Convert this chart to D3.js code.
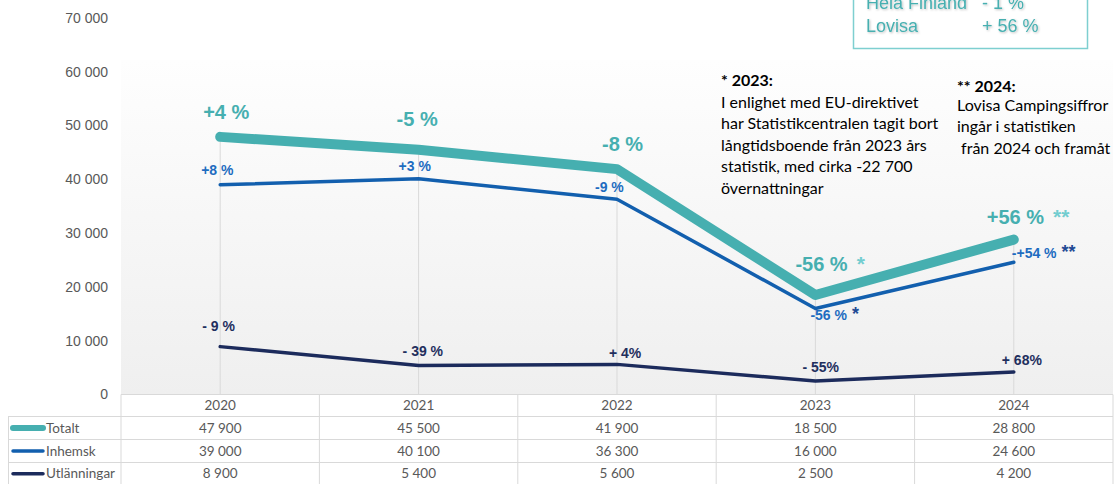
<!DOCTYPE html>
<html>
<head>
<meta charset="utf-8">
<script src="https://cdn.jsdelivr.net/npm/d3@7"></script>
<style>
  body { margin: 0; background: #fff; }
  svg { display: block; }
</style>
</head>
<body>
<div id="chart"></div>
<script>
// data
var years = ["2020", "2021", "2022", "2023", "2024"];
var totalt = [47900, 45500, 41900, 18500, 28800];
var inhemsk = [39000, 40100, 36300, 16000, 24600];
var utl = [8900, 5400, 5600, 2500, 4200];
var seriesNames = ["Totalt", "Inhemsk", "Utlänningar"];
var yTicks = [0, 10000, 20000, 30000, 40000, 50000, 60000, 70000];

var totLabels = ["+4 %", "-5 %", "-8 %", "-56 %", "+56 %"];
var inhLabels = ["+8 %", "+3 %", "-9 %", "-56 %", "-+54 %"];
var utlLabels = ["- 9 %", "- 39 %", "+ 4%", "- 55%", "+ 68%"];
var starMarks = ["", "", "", "*", "**"];

var note2023 = ["* 2023:", "I enlighet med EU-direktivet", "har Statistikcentralen tagit bort",
  "långtidsboende från 2023 års", "statistik, med cirka -22 700", "övernattningar"];
var note2024 = ["** 2024:", "Lovisa Campingsiffror", "ingår i statistiken", " från 2024 och framåt"];
var boxLines = [["Hela Finland", "- 1 %"], ["Lovisa", "+ 56 %"]];

// label offsets (layout only, dx/dy from the point)
var totOff = [[-17, -18], [-22, -24], [-15, -18], [-20, -24], [-27, -16]];
var inhOff = [[-19, -10], [-20, -8], [-22, -7], [-5, 12], [-2, -4]];
var utlOff = [[-18, -16], [-16, -9], [-8, -6], [-13, -9], [-12, -7]];

var width = 1114, height = 484;
var colTot = "#46afb0", colInh = "#125fae", colUtl = "#1c2b5c";
var grid = "#d9d9d9", txt = "#595959";

var svg = d3.select("#chart").append("svg")
    .attr("width", width)
    .attr("height", height);

var loc = d3.formatLocale({decimal: ",", thousands: " ", grouping: [3], currency: ["", ""]});
var fmt = loc.format(",d");

var plotL = 121, plotR = 1113, plotT = 60, plotB = 394.5;
var x = d3.scaleBand().domain(years).range([plotL, plotR]).padding(0);
var y = d3.scaleLinear().domain([0, 70000]).range([plotB, 18]);
var cx = function(d) { return x(d) + x.bandwidth() / 2; };

// plot area gradient
var defs = svg.append("defs");
var grad = defs.append("linearGradient").attr("id", "bg")
    .attr("x1", 0).attr("y1", 0).attr("x2", 0).attr("y2", 1);
grad.append("stop").attr("offset", "0%").attr("stop-color", "#fefefe");
grad.append("stop").attr("offset", "100%").attr("stop-color", "#efefef");
var sh = defs.append("filter").attr("id", "shadow");
sh.append("feDropShadow").attr("dx", 1).attr("dy", 1).attr("stdDeviation", 0.8)
    .attr("flood-color", "#000").attr("flood-opacity", 0.25);

svg.append("rect")
    .attr("x", plotL).attr("y", plotT)
    .attr("width", plotR - plotL).attr("height", plotB - plotT)
    .attr("fill", "url(#bg)");

// y labels
svg.append("g").selectAll("text")
  .data(yTicks)
  .join("text")
    .attr("x", 108)
    .attr("y", function(d) { return y(d); })
    .attr("dy", "0.35em")
    .attr("text-anchor", "end")
    .attr("font-family", "Liberation Sans, Arial, sans-serif")
    .attr("font-size", "14px")
    .attr("fill", txt)
    .text(function(d) { return d === 0 ? "0" : fmt(d); });

// drop lines
svg.append("g").selectAll("line")
  .data(years)
  .join("line")
    .attr("x1", cx).attr("x2", cx)
    .attr("y1", function(d, i) { return y(totalt[i]); })
    .attr("y2", plotB)
    .attr("stroke", grid).attr("stroke-width", 1);

// lines
var line = function(vals) {
  return d3.line()
    .x(function(d, i) { return cx(years[i]); })
    .y(function(d) { return y(d); })(vals);
};
svg.append("path").attr("d", line(utl))
    .attr("fill", "none").attr("stroke", colUtl).attr("stroke-width", 3.5)
    .attr("stroke-linecap", "round").attr("stroke-linejoin", "round");
svg.append("path").attr("d", line(inhemsk))
    .attr("fill", "none").attr("stroke", colInh).attr("stroke-width", 3.5)
    .attr("stroke-linecap", "round").attr("stroke-linejoin", "round");
svg.append("path").attr("d", line(totalt))
    .attr("fill", "none").attr("stroke", colTot).attr("stroke-width", 10)
    .attr("stroke-linecap", "round").attr("stroke-linejoin", "round");

// value labels
function addLabels(vals, labels, off, color, size, starColor, starSize, starDx) {
  var t = svg.append("g").selectAll("text")
    .data(years)
    .join("text")
      .attr("x", function(d, i) { return cx(d) + off[i][0]; })
      .attr("y", function(d, i) { return y(vals[i]) + off[i][1]; })
      .attr("font-family", "Liberation Sans, Arial, sans-serif")
      .attr("font-weight", "bold")
      .attr("font-size", size)
      .attr("fill", color);
  t.append("tspan").text(function(d, i) { return labels[i]; });
  if (starColor) {
    t.append("tspan")
      .attr("fill", starColor)
      .attr("font-size", starSize)
      .attr("dx", starDx)
      .text(function(d, i) { return starMarks[i]; });
  }
}
addLabels(totalt, totLabels, totOff, colTot, "20px", "#72cdd0", "21px", 9);
addLabels(inhemsk, inhLabels, inhOff, "#1d6cc0", "14px", "#1f4a94", "18px", 5);
addLabels(utl, utlLabels, utlOff, "#1f2f5e", "14px", null);

// table
var rowTop = [394.5, 416.5, 439.5, 462.5, 485];
var tbl = svg.append("g")
    .attr("font-family", "Lato, 'Open Sans', sans-serif")
    .attr("font-size", "13.5px")
    .attr("fill", txt);

// horizontal lines
rowTop.slice(0, 4).forEach(function(yy, r) {
  tbl.append("line")
    .attr("x1", r === 0 ? plotL : 8).attr("x2", plotR)
    .attr("y1", yy).attr("y2", yy)
    .attr("stroke", grid);
});
// vertical lines
years.concat(["end"]).forEach(function(d, i) {
  var xx = i < years.length ? x(d) : plotR;
  tbl.append("line")
    .attr("x1", xx).attr("x2", xx)
    .attr("y1", rowTop[0]).attr("y2", height)
    .attr("stroke", grid);
});
tbl.append("line")
    .attr("x1", 8.5).attr("x2", 8.5)
    .attr("y1", rowTop[1]).attr("y2", height)
    .attr("stroke", grid);

// year header
tbl.append("g").selectAll("text")
  .data(years)
  .join("text")
    .attr("x", cx)
    .attr("y", (rowTop[0] + rowTop[1]) / 2)
    .attr("dy", "0.35em")
    .attr("text-anchor", "middle")
    .text(function(d) { return d; });

var rows = [totalt, inhemsk, utl];
var rowCols = [colTot, colInh, colUtl];
var rowW = [6, 3.5, 3.5];
rows.forEach(function(vals, r) {
  var ym = (rowTop[r + 1] + rowTop[r + 2]) / 2;
  tbl.append("line")
    .attr("x1", 13).attr("x2", 43)
    .attr("y1", ym).attr("y2", ym)
    .attr("stroke", rowCols[r]).attr("stroke-width", rowW[r])
    .attr("stroke-linecap", "round");
  tbl.append("text")
    .attr("x", 46).attr("y", ym).attr("dy", "0.35em")
    .text(seriesNames[r]);
  tbl.append("g").selectAll("text")
    .data(vals)
    .join("text")
      .attr("x", function(d, i) { return cx(years[i]); })
      .attr("y", ym)
      .attr("dy", "0.35em")
      .attr("text-anchor", "middle")
      .text(function(d) { return fmt(d); });
});

// notes
var notes = svg.append("g")
    .attr("font-family", "Lato, 'Open Sans', sans-serif")
    .attr("font-size", "16px")
    .attr("fill", "#000");
note2023.forEach(function(s, i) {
  notes.append("text")
    .attr("x", 721).attr("y", 86 + i * 21.6)
    .attr("font-weight", i === 0 ? "bold" : "normal")
    .text(s);
});
note2024.forEach(function(s, i) {
  notes.append("text")
    .attr("x", 957).attr("y", i === 0 ? 92 : 89 + i * 21.6)
    .attr("font-weight", i === 0 ? "bold" : "normal")
    .style("white-space", "pre")
    .text(s);
});

// top right box
svg.append("rect")
    .attr("x", 853.5).attr("y", -10)
    .attr("width", 234).attr("height", 58.5)
    .attr("fill", "#fff")
    .attr("stroke", "#7ecfd0").attr("stroke-width", 1.5);
boxLines.forEach(function(p, i) {
  var g = svg.append("g")
    .attr("font-family", "Liberation Sans, Arial, sans-serif")
    .attr("font-size", "18px")
    .attr("fill", colTot)
    .attr("filter", "url(#shadow)");
  g.append("text").attr("x", 866).attr("y", 9 + i * 23).text(p[0]);
  g.append("text").attr("x", 982).attr("y", 9 + i * 23).text(p[1]);
});
</script>
</body>
</html>
